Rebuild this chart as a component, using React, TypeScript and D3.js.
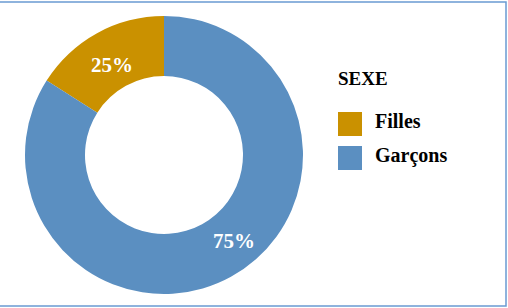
import React from "react";
import * as d3 from "d3";

const categories = ["Filles", "Garçons"];
const sliceValues = [16, 84];
const sliceLabels = ["25%", "75%"];
const colors = ["#CA9100", "#5B8FC1"];
const legendTitle = "SEXE";

const W = 508;
const H = 308;
const cx = 164;
const cy = 155;
const outerR = 139;
const innerR = 79;

export default function App() {
  const total = d3.sum(sliceValues);
  const startA = (-sliceValues[0] / total) * 2 * Math.PI;
  const pie = d3
    .pie<number>()
    .sort(null)
    .startAngle(startA)
    .endAngle(startA + 2 * Math.PI)(sliceValues);
  const arc = d3.arc<d3.PieArcDatum<number>>().innerRadius(innerR).outerRadius(outerR);

  const labelPos = [
    { t: 0.48, r: 104, dy: 7 },
    { t: 0.466, r: 111, dy: 7 },
  ];

  return (
    <svg
      width={W}
      height={H}
      style={{ position: "absolute", left: 0, top: 0, background: "#fff" }}
    >
      <rect x={-2} y={2} width={508} height={304} fill="#fff" stroke="#6A9AD2" strokeWidth={1.5} />
      <g transform={`translate(${cx},${cy})`}>
        {pie.map((d, i) => (
          <path key={i} d={arc(d) || ""} fill={colors[i]} />
        ))}
        {pie.map((d, i) => {
          const a = d.startAngle + (d.endAngle - d.startAngle) * labelPos[i].t;
          const x = Math.sin(a) * labelPos[i].r;
          const y = -Math.cos(a) * labelPos[i].r;
          return (
            <text
              key={"l" + i}
              x={x}
              y={y + labelPos[i].dy}
              textAnchor="middle"
              fill="#fff"
              fontFamily="Liberation Serif, serif"
              fontWeight="bold"
              fontSize={21}
            >
              {sliceLabels[i]}
            </text>
          );
        })}
      </g>
      <g fontFamily="Liberation Serif, serif" fontWeight="bold" fill="#000">
        <text x={338} y={85} fontSize={19}>
          {legendTitle}
        </text>
        {categories.map((c, i) => (
          <g key={c} transform={`translate(338,${112 + i * 34})`}>
            <rect width={24} height={24} fill={colors[i]} />
            <text x={37} y={16} fontSize={20}>
              {c}
            </text>
          </g>
        ))}
      </g>
    </svg>
  );
}
